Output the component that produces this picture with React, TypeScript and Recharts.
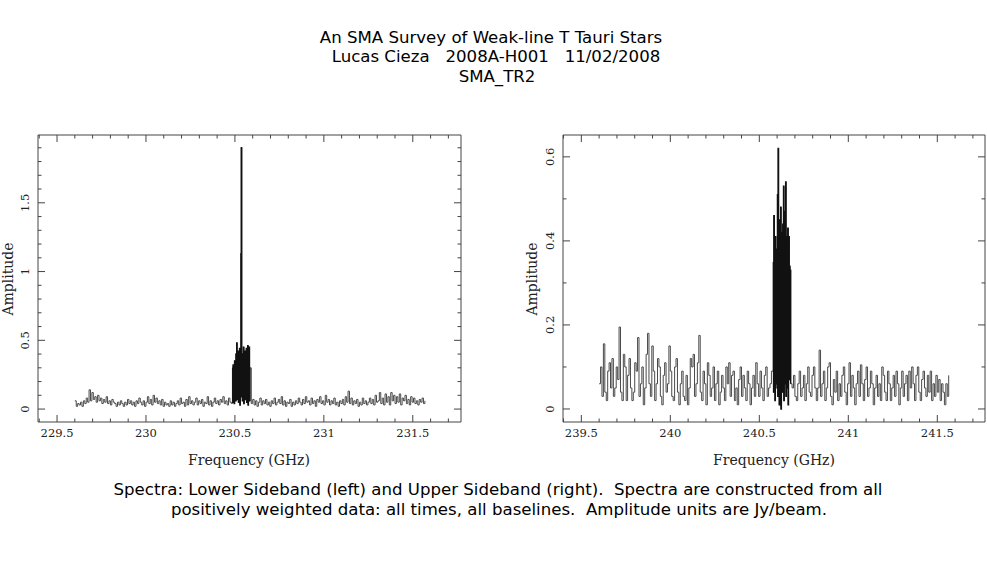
import React from "react";
import { LineChart, Line, XAxis, YAxis, ReferenceArea } from "recharts";

// channel grids (GHz): wide-band channels and the high-resolution chunk holding the line
const WIDE_STEP = 0.008;
const FINE_STEP = 0.002;
const LSB_LOW_START = 229.6;
const LSB_LINE_START = 230.486;
const LSB_HIGH_START = 230.592;
const USB_LOW_START = 239.6;
const USB_LINE_START = 240.578;
const USB_HIGH_START = 240.684;

// lower sideband amplitudes (Jy/beam)
const lsbLow = [
  0.06, 0.02, 0.04, 0.03, 0.05, 0.02, 0.06, 0.04, 0.08, 0.05,
  0.14, 0.06, 0.12, 0.07, 0.09, 0.05, 0.10, 0.06, 0.08, 0.04,
  0.07, 0.05, 0.09, 0.04, 0.06, 0.03, 0.07, 0.05, 0.04, 0.02,
  0.05, 0.03, 0.06, 0.04, 0.02, 0.05, 0.03, 0.07, 0.04, 0.06,
  0.03, 0.05, 0.02, 0.06, 0.04, 0.08, 0.05, 0.03, 0.06, 0.02,
  0.05, 0.09, 0.04, 0.07, 0.03, 0.10, 0.05, 0.08, 0.04, 0.06,
  0.03, 0.07, 0.02, 0.05, 0.03, 0.04, 0.02, 0.06, 0.03, 0.05,
  0.02, 0.04, 0.06, 0.03, 0.08, 0.04, 0.05, 0.02, 0.07, 0.03,
  0.09, 0.04, 0.06, 0.03, 0.05, 0.08, 0.03, 0.06, 0.04, 0.07,
  0.02, 0.05, 0.04, 0.09, 0.03, 0.06, 0.02, 0.05, 0.08, 0.04,
  0.06, 0.03, 0.07, 0.05, 0.09, 0.04, 0.06, 0.03, 0.08, 0.05,
  0.04,
];
const lsbLine = [
  0.30, 0.05, 0.32, 0.08, 0.25, 0.04, 0.35, 0.10, 0.28, 0.06,
  0.40, 0.12, 0.48, 0.07, 0.38, 0.15, 0.42, 0.05, 0.30, 0.11,
  0.44, 0.03, 0.36, 0.09, 1.13, 1.90, 0.14, 0.40, 0.06, 0.33,
  0.10, 0.45, 0.04, 0.38, 0.12, 0.42, 0.07, 0.28, 0.13, 0.44,
  0.05, 0.35, 0.09, 0.46, 0.03, 0.40, 0.11, 0.45, 0.06, 0.30,
];
const lsbHigh = [
  0.04, 0.07, 0.03, 0.06, 0.02, 0.05, 0.08, 0.03, 0.06, 0.04,
  0.07, 0.03, 0.05, 0.02, 0.06, 0.04, 0.08, 0.03, 0.05, 0.07,
  0.04, 0.09, 0.03, 0.06, 0.02, 0.05, 0.04, 0.07, 0.02, 0.05,
  0.03, 0.06, 0.04, 0.08, 0.05, 0.03, 0.07, 0.04, 0.09, 0.05,
  0.06, 0.03, 0.08, 0.04, 0.06, 0.02, 0.07, 0.05, 0.09, 0.04,
  0.06, 0.03, 0.10, 0.05, 0.07, 0.03, 0.06, 0.04, 0.08, 0.03,
  0.05, 0.02, 0.06, 0.04, 0.07, 0.03, 0.09, 0.05, 0.13, 0.04,
  0.08, 0.03, 0.06, 0.04, 0.07, 0.02, 0.05, 0.03, 0.08, 0.04,
  0.06, 0.03, 0.05, 0.08, 0.04, 0.07, 0.03, 0.10, 0.05, 0.06,
  0.12, 0.04, 0.08, 0.03, 0.11, 0.05, 0.09, 0.03, 0.12, 0.06,
  0.10, 0.04, 0.09, 0.05, 0.11, 0.03, 0.08, 0.06, 0.10, 0.04,
  0.07, 0.03, 0.09, 0.05, 0.08, 0.04, 0.06, 0.03, 0.07, 0.05,
  0.08, 0.04, 0.06,
];

// upper sideband amplitudes (Jy/beam)
const usbLow = [
  0.06, 0.10, 0.03, 0.155, 0.04, 0.02, 0.09, 0.11, 0.05, 0.12,
  0.03, 0.05, 0.10, 0.07, 0.195, 0.04, 0.02, 0.13, 0.10, 0.02,
  0.08, 0.12, 0.05, 0.02, 0.04, 0.11, 0.09, 0.17, 0.03, 0.06,
  0.10, 0.01, 0.05, 0.13, 0.18, 0.06, 0.03, 0.15, 0.09, 0.02,
  0.06, 0.12, 0.10, 0.03, 0.01, 0.08, 0.11, 0.04, 0.06, 0.15,
  0.09, 0.03, 0.02, 0.10, 0.12, 0.04, 0.01, 0.06, 0.09, 0.03,
  0.02, 0.08, 0.01, 0.05, 0.12, 0.10, 0.13, 0.03, 0.06, 0.11,
  0.175, 0.04, 0.02, 0.09, 0.06, 0.01, 0.11, 0.08, 0.03, 0.05,
  0.10, 0.02, 0.06, 0.09, 0.01, 0.04, 0.08, 0.05, 0.02, 0.10,
  0.06, 0.11, 0.03, 0.08, 0.09, 0.02, 0.05, 0.01, 0.07, 0.10,
  0.03, 0.08, 0.05, 0.02, 0.09, 0.06, 0.01, 0.05, 0.08, 0.03,
  0.11, 0.06, 0.03, 0.09, 0.05, 0.02, 0.08, 0.10, 0.03, 0.05,
  0.06, 0.09,
];
const usbLine = [
  0.35, 0.04, 0.46, 0.08, 0.30, 0.02, 0.41, 0.06, 0.38, 0.10,
  0.33, 0.05, 0.51, 0.03, 0.62, 0.09, 0.40, 0.01, 0.45, 0.07,
  0.36, 0.48, 0.00, 0.42, 0.11, 0.37, 0.04, 0.44, 0.08, 0.53,
  0.02, 0.39, 0.06, 0.47, 0.12, 0.54, 0.03, 0.41, 0.09, 0.36,
  0.05, 0.43, 0.01, 0.38, 0.41, 0.07, 0.34, 0.10, 0.33, 0.06,
];
const usbHigh = [
  0.05, 0.08, 0.03, 0.02, 0.06, 0.09, 0.03, 0.05, 0.08, 0.02,
  0.06, 0.10, 0.04, 0.03, 0.08, 0.10, 0.05, 0.02, 0.05, 0.14,
  0.03, 0.06, 0.09, 0.02, 0.05, 0.10, 0.11, 0.03, 0.01, 0.07,
  0.04, 0.09, 0.02, 0.06, 0.03, 0.08, 0.10, 0.04, 0.01, 0.06,
  0.11, 0.03, 0.08, 0.05, 0.01, 0.06, 0.09, 0.03, 0.105, 0.06,
  0.02, 0.07, 0.10, 0.03, 0.05, 0.09, 0.06, 0.01, 0.05, 0.08,
  0.03, 0.06, 0.02, 0.10, 0.08, 0.04, 0.02, 0.09, 0.06, 0.02,
  0.05, 0.08, 0.03, 0.09, 0.06, 0.01, 0.05, 0.09, 0.03, 0.06,
  0.08, 0.02, 0.09, 0.05, 0.10, 0.06, 0.02, 0.08, 0.10, 0.04,
  0.02, 0.07, 0.09, 0.05, 0.03, 0.08, 0.04, 0.09, 0.02, 0.06,
  0.03, 0.08, 0.04, 0.07, 0.02, 0.06, 0.04, 0.01, 0.06, 0.03,
  0.08,
];

// axis ticks
const lsbFreqTicks = [
  229.4, 229.5, 229.6, 229.7, 229.8, 229.9, 230, 230.1, 230.2, 230.3, 230.4, 230.5,
  230.6, 230.7, 230.8, 230.9, 231, 231.1, 231.2, 231.3, 231.4, 231.5, 231.6, 231.7,
];
const usbFreqTicks = [
  239.4, 239.5, 239.6, 239.7, 239.8, 239.9, 240, 240.1, 240.2, 240.3, 240.4, 240.5,
  240.6, 240.7, 240.8, 240.9, 241, 241.1, 241.2, 241.3, 241.4, 241.5, 241.6, 241.7,
];
const lsbAmpTicks = [
  0, 0.1, 0.2, 0.3, 0.4, 0.5, 0.6, 0.7, 0.8, 0.9, 1, 1.1, 1.2, 1.3, 1.4, 1.5, 1.6, 1.7, 1.8, 1.9,
];
const usbAmpTicks = [0, 0.1, 0.2, 0.3, 0.4, 0.5, 0.6];

type Pt = { f: number; a: number };

function channels(start: number, step: number, values: number[]): Pt[] {
  return values.map((a, i) => ({ f: +(start + i * step).toFixed(4), a }));
}

const lsbLineData = channels(LSB_LINE_START, FINE_STEP, lsbLine);
const lsbData = [
  ...channels(LSB_LOW_START, WIDE_STEP, lsbLow),
  ...lsbLineData,
  ...channels(LSB_HIGH_START, WIDE_STEP, lsbHigh),
];
const usbLineData = channels(USB_LINE_START, FINE_STEP, usbLine);
const usbData = [
  ...channels(USB_LOW_START, WIDE_STEP, usbLow),
  ...usbLineData,
  ...channels(USB_HIGH_START, WIDE_STEP, usbHigh),
];

const AXIS_FONT = "'DejaVu Serif', serif";
const TEXT_FONT = "'DejaVu Sans', sans-serif";
const FRAME = "#444";

const isMajor = (v: number, every: number) =>
  Math.abs(v / every - Math.round(v / every)) < 1e-6;

type PanelProps = {
  left: number;
  width: number;
  plotLeft: number;
  plotRight: number;
  data: Pt[];
  lineData: Pt[];
  xDomain: [number, number];
  yDomain: [number, number];
  xTicks: number[];
  yTicks: number[];
  yMajor: number;
};

function Panel({
  left, width, plotLeft, plotRight, data, lineData, xDomain, yDomain, xTicks, yTicks, yMajor,
}: PanelProps) {
  const height = 380;
  const plotTop = 35;
  const plotBottom = 322;

  const xTick = (p: any) => {
    const v = p.payload.value;
    const major = isMajor(v, 0.5);
    const len = major ? 7 : 3.5;
    return (
      <g>
        <line x1={p.x} x2={p.x} y1={plotBottom} y2={plotBottom - len} stroke={FRAME} />
        <line x1={p.x} x2={p.x} y1={plotTop} y2={plotTop + len} stroke={FRAME} />
        {major && (
          <text x={p.x} y={plotBottom + 15} textAnchor="middle" fontFamily={AXIS_FONT} fontSize={11.5} fill="#222">
            {String(v)}
          </text>
        )}
      </g>
    );
  };

  const yTick = (p: any) => {
    const v = p.payload.value;
    const major = isMajor(v, yMajor);
    const len = major ? 7 : 3.5;
    const tx = plotLeft - 9;
    return (
      <g>
        <line x1={plotLeft} x2={plotLeft + len} y1={p.y} y2={p.y} stroke={FRAME} />
        <line x1={plotRight} x2={plotRight - len} y1={p.y} y2={p.y} stroke={FRAME} />
        {major && (
          <text
            x={tx}
            y={p.y}
            transform={`rotate(-90, ${tx}, ${p.y})`}
            textAnchor="middle"
            fontFamily={AXIS_FONT}
            fontSize={11.5}
            fill="#222"
          >
            {String(v)}
          </text>
        )}
      </g>
    );
  };

  // axes are 1px thick so they still render; margins absorb that pixel
  return (
    <div style={{ position: "absolute", left, top: 100 }}>
      <LineChart
        width={width}
        height={height}
        data={data}
        margin={{ top: plotTop, right: width - plotRight, bottom: height - plotBottom - 1, left: plotLeft - 1 }}
      >
        <XAxis
          dataKey="f"
          type="number"
          domain={xDomain}
          ticks={xTicks}
          interval={0}
          allowDataOverflow
          height={1}
          axisLine={false}
          tickLine={false}
          tick={xTick}
        />
        <YAxis
          type="number"
          domain={yDomain}
          ticks={yTicks}
          interval={0}
          allowDataOverflow
          width={1}
          axisLine={false}
          tickLine={false}
          tick={yTick}
        />
        <ReferenceArea
          x1={xDomain[0]}
          x2={xDomain[1]}
          y1={yDomain[0]}
          y2={yDomain[1]}
          fill="none"
          stroke={FRAME}
          strokeWidth={1}
          ifOverflow="visible"
        />
        <Line
          dataKey="a"
          type="stepAfter"
          stroke="#4a4a4a"
          strokeWidth={1}
          dot={false}
          isAnimationActive={false}
        />
        {/* the high-resolution chunk is drawn again, heavier, so it reads as a solid block */}
        <Line
          data={lineData}
          dataKey="a"
          type="stepAfter"
          stroke="#111"
          strokeWidth={1.4}
          dot={false}
          isAnimationActive={false}
        />
      </LineChart>
    </div>
  );
}

const abs = (x: number, y: number, extra: React.CSSProperties = {}): React.CSSProperties => ({
  position: "absolute",
  left: x,
  top: y,
  transform: "translate(-50%, -50%)",
  whiteSpace: "pre",
  ...extra,
});

export default function App() {
  const title = { fontFamily: TEXT_FONT, fontSize: 16.6, color: "#000" };
  const axisTitle = { fontFamily: AXIS_FONT, fontSize: 14, color: "#222" };
  return (
    <div
      style={{
        position: "absolute",
        left: 0,
        top: 0,
        width: 987,
        height: 567,
        background: "#fff",
        overflow: "hidden",
      }}
    >
      <div style={abs(491, 37, title)}>An SMA Survey of Weak-line T Tauri Stars</div>
      <div style={abs(496, 56, title)}>Lucas Cieza   2008A-H001   11/02/2008</div>
      <div style={abs(497, 76, title)}>SMA_TR2</div>

      <Panel
        left={0}
        width={480}
        plotLeft={38}
        plotRight={461}
        data={lsbData}
        lineData={lsbLineData}
        xDomain={[229.393, 231.771]}
        yDomain={[-0.094, 1.993]}
        xTicks={lsbFreqTicks}
        yTicks={lsbAmpTicks}
        yMajor={0.5}
      />
      <Panel
        left={500}
        width={487}
        plotLeft={63}
        plotRight={485}
        data={usbData}
        lineData={usbLineData}
        xDomain={[239.397, 241.768]}
        yDomain={[-0.031, 0.652]}
        xTicks={usbFreqTicks}
        yTicks={usbAmpTicks}
        yMajor={0.2}
      />

      <div style={abs(8, 279, { ...axisTitle, transform: "translate(-50%, -50%) rotate(-90deg)" })}>
        Amplitude
      </div>
      <div style={abs(532, 279, { ...axisTitle, transform: "translate(-50%, -50%) rotate(-90deg)" })}>
        Amplitude
      </div>
      <div style={abs(249, 460, axisTitle)}>Frequency (GHz)</div>
      <div style={abs(774, 460, axisTitle)}>Frequency (GHz)</div>

      <div style={abs(498, 489, title)}>
        Spectra: Lower Sideband (left) and Upper Sideband (right).  Spectra are constructed from all
      </div>
      <div style={abs(499, 509, title)}>
        positively weighted data: all times, all baselines.  Amplitude units are Jy/beam.
      </div>
    </div>
  );
}
